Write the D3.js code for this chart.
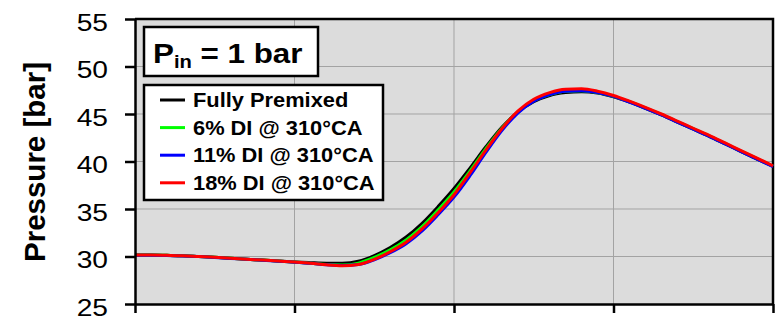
<!DOCTYPE html>
<html>
<head>
<meta charset="utf-8">
<script src="https://cdn.jsdelivr.net/npm/d3@7"></script>
<style>
  html, body { margin: 0; padding: 0; background: #fff; }
  svg { display: block; font-family: Arial, "Liberation Sans", sans-serif; }
</style>
</head>
<body>
<div id="chart"></div>
<script>
// crank angle [deg CA]
const crankAngle = d3.range(320, 401, 2);

// pressure traces [bar]
const fullyPremixed = [30.15, 30.15, 30.12, 30.08, 30.0, 29.92, 29.82, 29.72, 29.62, 29.52, 29.42,
  29.35, 29.3, 29.3, 29.5, 30.1, 30.95, 32.05, 33.5, 35.25, 37.15, 39.3, 41.55, 43.6, 45.2, 46.3,
  46.95, 47.25, 47.35, 47.2, 46.8, 46.25, 45.6, 44.9, 44.15, 43.4, 42.65, 41.85, 41.05, 40.25, 39.5];
const di6 = [30.15, 30.15, 30.12, 30.08, 30.0, 29.92, 29.82, 29.72, 29.62, 29.52, 29.42,
  29.3, 29.15, 29.1, 29.3, 29.9, 30.7, 31.75, 33.15, 34.9, 36.8, 39.0, 41.35, 43.5, 45.2, 46.4,
  47.05, 47.4, 47.45, 47.25, 46.85, 46.3, 45.65, 44.95, 44.2, 43.45, 42.7, 41.9, 41.1, 40.3, 39.5];
const di11 = [30.13, 30.13, 30.1, 30.06, 29.99, 29.9, 29.8, 29.7, 29.6, 29.5, 29.4,
  29.28, 29.12, 29.05, 29.15, 29.65, 30.4, 31.35, 32.7, 34.4, 36.25, 38.5, 40.95, 43.25, 45.1, 46.35,
  47.05, 47.4, 47.45, 47.25, 46.85, 46.25, 45.6, 44.9, 44.15, 43.4, 42.65, 41.85, 41.05, 40.25, 39.45];
const di18 = [30.15, 30.15, 30.12, 30.08, 30.0, 29.92, 29.82, 29.72, 29.62, 29.52, 29.42,
  29.3, 29.12, 29.02, 29.15, 29.7, 30.5, 31.5, 32.9, 34.6, 36.5, 38.8, 41.2, 43.45, 45.3, 46.55,
  47.25, 47.6, 47.65, 47.4, 46.95, 46.35, 45.7, 45.0, 44.25, 43.5, 42.75, 41.95, 41.15, 40.35, 39.55];

const seriesNames = ['Fully Premixed', '6% DI @ 310°CA', '11% DI @ 310°CA', '18% DI @ 310°CA'];
const seriesColors = ['#000000', '#00ff00', '#0000ff', '#ff0000'];
const seriesValues = [fullyPremixed, di6, di11, di18];

const yTicks = [25, 30, 35, 40, 45, 50, 55];
const xTicks = [320, 340, 360, 380, 400];

const width = 778, height = 321;
const margin = { top: 19, right: 5, bottom: 17, left: 135 };
const innerWidth = width - margin.left - margin.right;
const innerHeight = height - margin.top - margin.bottom;
const stretch = 'scale(1.12,1)';

const svg = d3.select('#chart').append('svg')
  .attr('width', width)
  .attr('height', height);

const g = svg.append('g')
  .attr('transform', `translate(${margin.left},${margin.top})`);

const x = d3.scaleLinear().domain([320, 400]).range([0, innerWidth]);
const y = d3.scaleLinear().domain([25, 55]).range([innerHeight, 0]);

// plot background
g.append('rect')
  .attr('width', innerWidth)
  .attr('height', innerHeight)
  .attr('fill', '#dcdcdc');

// grid
g.append('g')
  .selectAll('line')
  .data(yTicks.slice(1, -1))
  .join('line')
  .attr('x1', 0).attr('x2', innerWidth)
  .attr('y1', d => y(d)).attr('y2', d => y(d))
  .attr('stroke', '#a3a3a3').attr('stroke-width', 1);
g.append('g')
  .selectAll('line')
  .data(xTicks.slice(1, -1))
  .join('line')
  .attr('y1', 0).attr('y2', innerHeight)
  .attr('x1', d => x(d)).attr('x2', d => x(d))
  .attr('stroke', '#a3a3a3').attr('stroke-width', 1);

// top and right frame
g.append('path')
  .attr('d', `M0,0H${innerWidth}V${innerHeight}`)
  .attr('fill', 'none')
  .attr('stroke', '#000')
  .attr('stroke-width', 2.5);

// curves
const line = d3.line()
  .x((d, i) => x(crankAngle[i]))
  .y(d => y(d))
  .curve(d3.curveMonotoneX);

g.append('g')
  .selectAll('path')
  .data(seriesValues)
  .join('path')
  .attr('d', d => line(d))
  .attr('fill', 'none')
  .attr('stroke', (d, i) => seriesColors[i])
  .attr('stroke-width', 3)
  .attr('stroke-linejoin', 'round');

// axes
g.append('g')
  .call(d3.axisLeft(y).tickValues(yTicks).tickSize(10).tickSizeOuter(0))
  .call(a => a.select('.domain').attr('stroke-width', 2.5))
  .call(a => a.selectAll('line').attr('stroke-width', 2.5))
  .call(a => a.selectAll('text')
    .attr('x', 0)
    .attr('dy', '0.46em')
    .attr('transform', 'translate(-27,0) scale(1.15,1)')
    .attr('font-size', 24.5)
    .attr('fill', '#000'));

g.append('g')
  .attr('transform', `translate(0,${innerHeight})`)
  .call(d3.axisBottom(x).tickValues(xTicks).tickSize(9).tickSizeOuter(0).tickFormat(''))
  .call(a => a.select('.domain').attr('stroke-width', 2.5))
  .call(a => a.selectAll('line').attr('stroke-width', 2.5));

// y title
svg.append('text')
  .attr('transform', 'translate(45,162) rotate(-90)')
  .attr('text-anchor', 'middle')
  .attr('font-size', 29.5)
  .attr('font-weight', 'bold')
  .text('Pressure [bar]');

// P_in box
svg.append('rect')
  .attr('x', 144).attr('y', 27)
  .attr('width', 174).attr('height', 49)
  .attr('fill', '#fff')
  .attr('stroke', '#000')
  .attr('stroke-width', 2.5);
const pin = svg.append('text')
  .attr('transform', `translate(153,63) ${stretch}`)
  .attr('font-size', 28)
  .attr('font-weight', 'bold');
pin.append('tspan').text('P');
pin.append('tspan').attr('dy', 5).attr('font-size', 18).text('in');
pin.append('tspan').attr('dy', -5).text(' = 1 bar');

// legend
svg.append('rect')
  .attr('x', 144).attr('y', 85)
  .attr('width', 239).attr('height', 115)
  .attr('fill', '#fff')
  .attr('stroke', '#000')
  .attr('stroke-width', 2.5);

const legendItem = svg.append('g')
  .selectAll('g')
  .data(seriesNames)
  .join('g')
  .attr('transform', (d, i) => `translate(160,${100 + i * 27.6})`);
legendItem.append('line')
  .attr('x1', 0).attr('x2', 25)
  .attr('stroke', (d, i) => seriesColors[i])
  .attr('stroke-width', 3);
legendItem.append('text')
  .attr('transform', `translate(33,7) ${stretch}`)
  .attr('font-size', 19.5)
  .attr('font-weight', 'bold')
  .text(d => d);
</script>
</body>
</html>
